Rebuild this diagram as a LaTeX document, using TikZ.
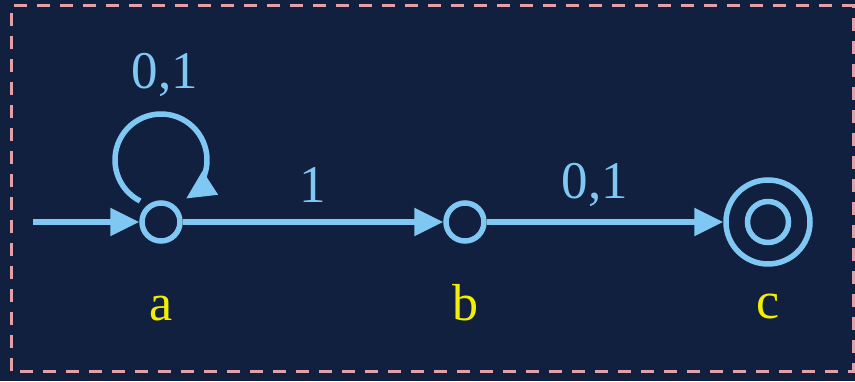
\documentclass[tikz,border=0pt]{standalone}
\usepackage{fontspec}
\setmainfont{Liberation Serif}
\usetikzlibrary{arrows.meta}
\definecolor{bgnavy}{HTML}{12203F}
\definecolor{edgeblue}{HTML}{80C8F4}
\definecolor{borderpink}{HTML}{E4A0A8}
\definecolor{labelyellow}{HTML}{F2F000}
\begin{document}
\begin{tikzpicture}[x=1pt,y=1pt,
  statenode/.style={circle,draw=edgeblue,line width=5.5pt,inner sep=0pt,minimum size=38pt},
  trans/.style={draw=edgeblue,line width=5.5pt,-{Triangle[length=29pt,width=27pt]}},
  edgelabel/.style={text=edgeblue,font=\fontsize{53}{60}\selectfont,inner sep=0pt},
  namelabel/.style={text=labelyellow,font=\fontsize{52}{60}\selectfont,inner sep=0pt}]
\fill[bgnavy] (0,0) rectangle (855,381);
\useasboundingbox (0,0) rectangle (855,381);
\draw[borderpink,line width=3pt,dash pattern=on 13pt off 10pt] (11,10) rectangle (853,375);
\node[statenode] (a) at (161,159) {};
\node[statenode] (b) at (465,159) {};
\node[statenode,minimum size=84pt] (c) at (768,159) {};
\node[statenode,minimum size=41pt] (cin) at (c.center) {};
\coordinate (start) at (33,159);
\coordinate (lc) at (161,221);
\draw[trans] (start) -- (a);
\draw[trans] (a) -- (b);
\draw[trans] (b) -- (c);
\draw[trans] ([shift={(243:46)}]lc) arc[start angle=243,end angle=-57,radius=46];
\node[edgelabel] (l0) at (165,306) {0,1};
\node[edgelabel] (l1) at (313,196) {1};
\node[edgelabel] (l2) at (595,196) {0,1};
\node[namelabel] (na) at (161,72) {a};
\node[namelabel] (nb) at (465,78) {b};
\node[namelabel] (nc) at (768,74) {c};
\end{tikzpicture}
\end{document}
